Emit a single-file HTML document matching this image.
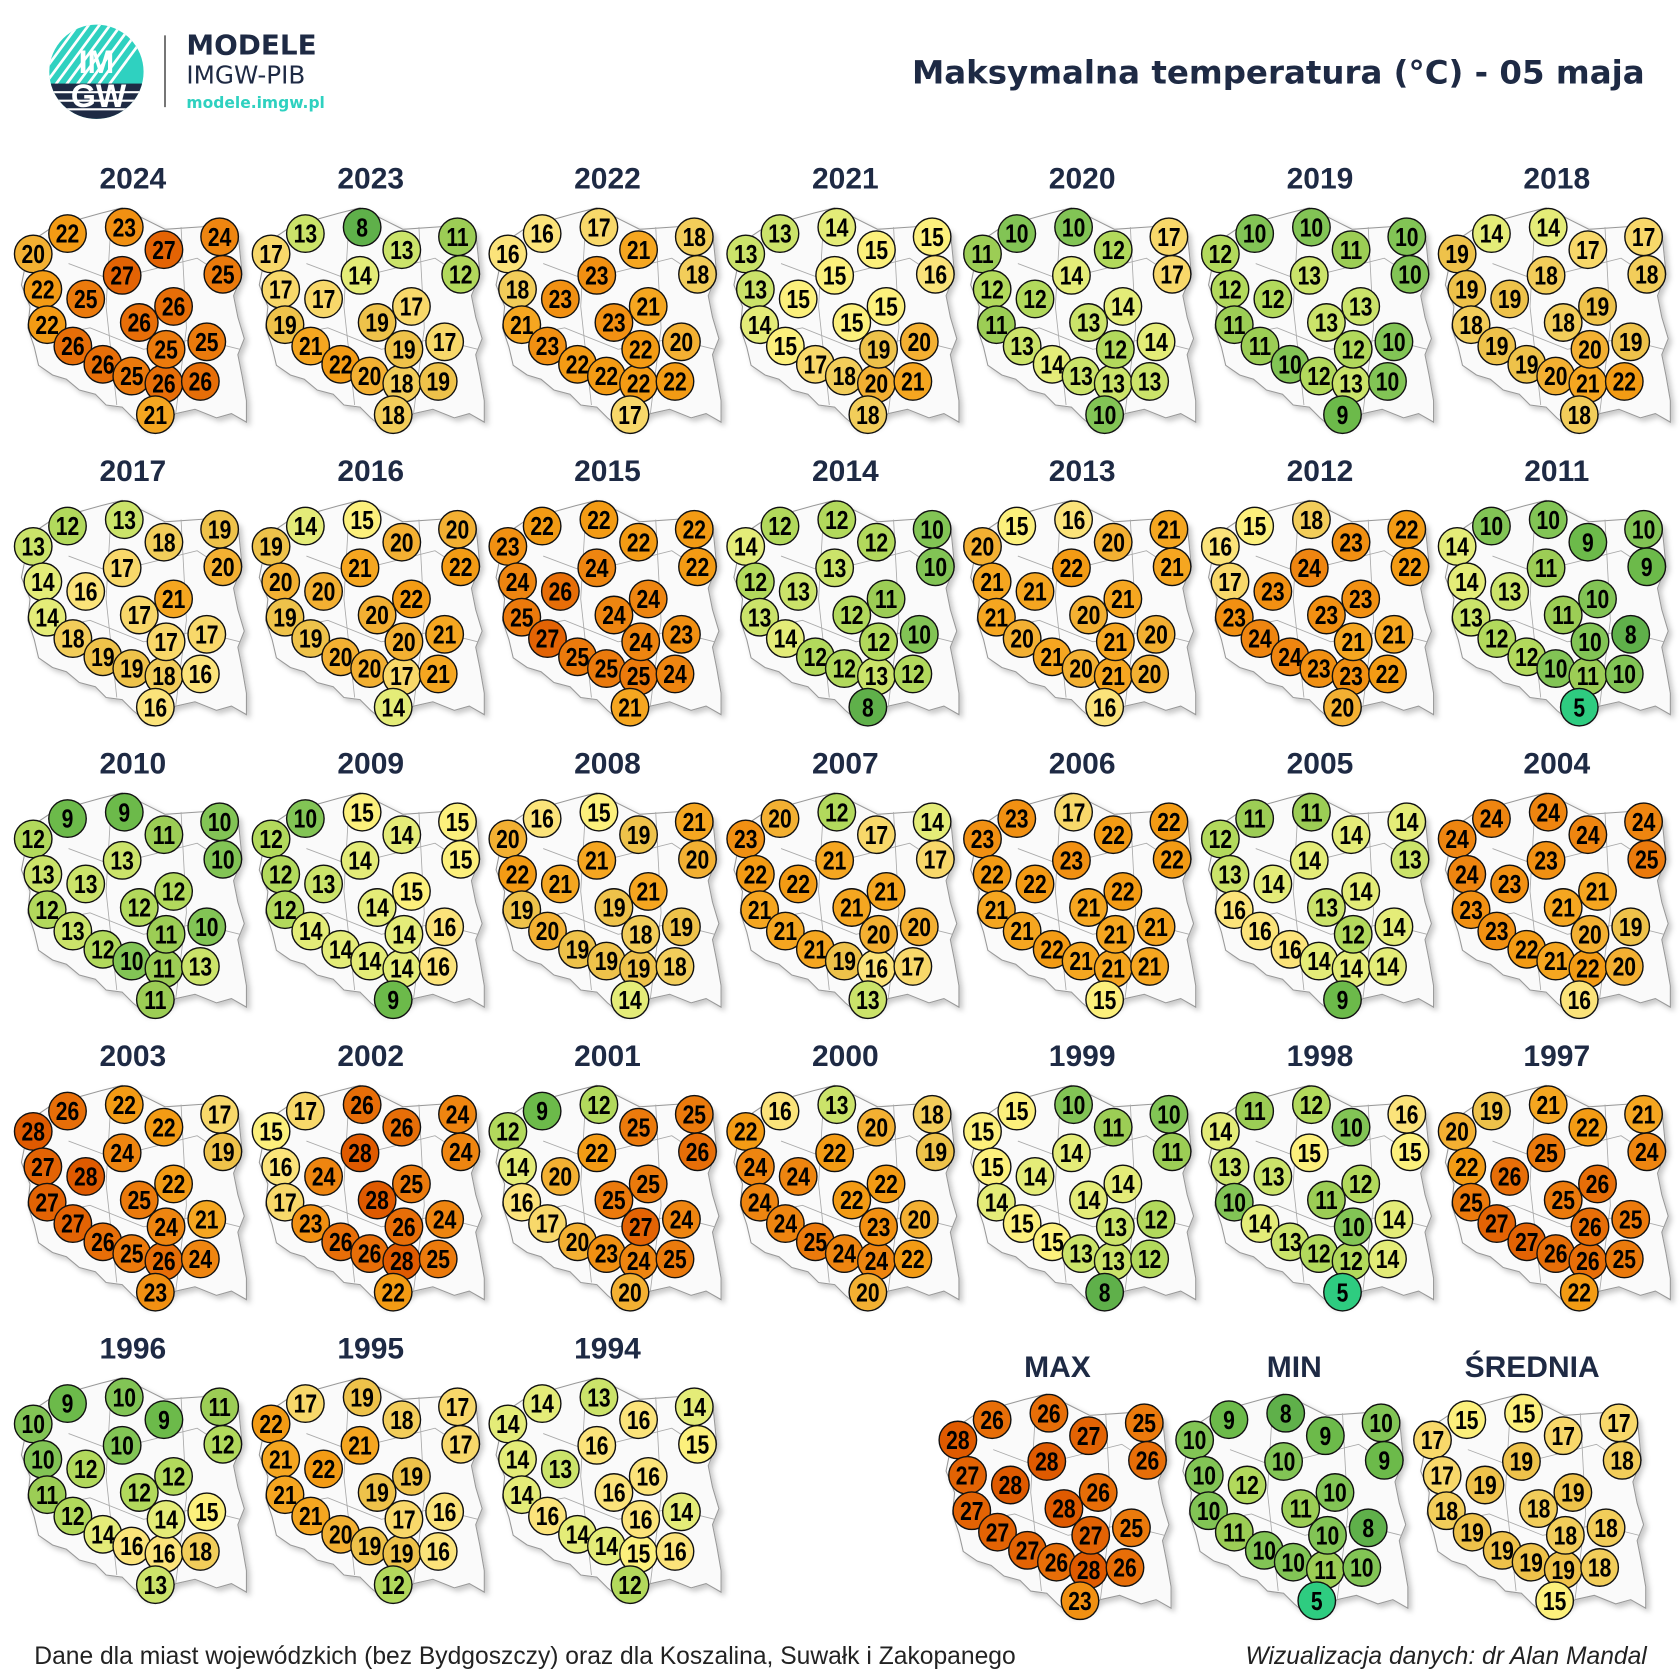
<!DOCTYPE html>
<html><head><meta charset="utf-8">
<style>
html,body{margin:0;padding:0;background:#fff;}
svg{display:block;}
</style></head>
<body>
<svg id="s" width="1680" height="1680" viewBox="0 0 1568 1568" xmlns="http://www.w3.org/2000/svg">
<defs>
<filter id="sh" x="-20%" y="-20%" width="140%" height="140%"><feDropShadow dx="3" dy="3" stdDeviation="2.5" flood-color="#000" flood-opacity="0.22"/></filter>
<clipPath id="lc"><circle cx="90" cy="67" r="44"/></clipPath>
</defs>
<rect width="1568" height="1568" fill="#fff"/>
<g clip-path="url(#lc)">
<rect x="40" y="20" width="100" height="100" fill="#2fd1c0"/>
<g stroke="#fff" stroke-width="2.5">
<line x1="40" y1="95" x2="110" y2="0"/><line x1="50" y1="95" x2="120" y2="0"/><line x1="60" y1="95" x2="130" y2="0"/><line x1="70" y1="95" x2="140" y2="0"/><line x1="80" y1="95" x2="150" y2="0"/><line x1="30" y1="95" x2="100" y2="0"/><line x1="20" y1="95" x2="90" y2="0"/><line x1="90" y1="95" x2="160" y2="0"/>
</g>
<rect x="40" y="78" width="100" height="50" fill="#1e2a44"/>
<g stroke="#fff" stroke-width="2"><line x1="40" y1="86" x2="140" y2="86"/><line x1="40" y1="94" x2="140" y2="94"/><line x1="40" y1="102" x2="140" y2="102"/></g>
</g>
<text x="90" y="68" font-family="Liberation Sans" font-weight="bold" font-size="30" fill="#fff" text-anchor="middle">IM</text>
<text x="92" y="100" font-family="Liberation Sans" font-weight="bold" font-size="30" fill="#fff" text-anchor="middle">GW</text>
<line x1="154" y1="33" x2="154" y2="100" stroke="#555" stroke-width="1.5"/>
<text x="174" y="51" font-family="DejaVu Sans" font-weight="bold" font-size="26" fill="#1e2a44">MODELE</text>
<text x="174" y="78" font-family="DejaVu Sans" font-size="23" fill="#1e2a44">IMGW-PIB</text>
<text x="174" y="101" font-family="DejaVu Sans" font-weight="bold" font-size="14.5" fill="#2fd1c0">modele.imgw.pl</text>
<text x="1535" y="78" font-family="DejaVu Sans" font-weight="bold" font-size="30.3" fill="#1e2a44" text-anchor="end">Maksymalna temperatura (°C) - 05 maja</text>
<text x="32" y="1553" font-family="Liberation Sans" font-size="23" fill="#222">Dane dla miast wojewódzkich (bez Bydgoszczy) oraz dla Koszalina, Suwałk i Zakopanego</text>
<text x="1537" y="1553" font-family="Liberation Sans" font-style="italic" font-size="23" fill="#222" text-anchor="end">Wizualizacja danych: dr Alan Mandal</text>
<g id="g"></g>
</svg>
<script>
var pos=[[-93,71],[-61,52],[-8,46],[29,67],[81,55],[84,90],[-10,91],[-84,104],[-44,113],[-80,137],[38,120],[6,135],[-56,157],[-28,174],[-1,185],[29,192],[31,160],[69,153],[63,190],[21,221]];
var D={
2024:[20,22,23,27,24,25,27,22,25,22,26,26,26,26,25,26,25,25,26,21],
2023:[17,13,8,13,11,12,14,17,17,19,17,19,21,22,20,18,19,17,19,18],
2022:[16,16,17,21,18,18,23,18,23,21,21,23,23,22,22,22,22,20,22,17],
2021:[13,13,14,15,15,16,15,13,15,14,15,15,15,17,18,20,19,20,21,18],
2020:[11,10,10,12,17,17,14,12,12,11,14,13,13,14,13,13,12,14,13,10],
2019:[12,10,10,11,10,10,13,12,12,11,13,13,11,10,12,13,12,10,10,9],
2018:[19,14,14,17,17,18,18,19,19,18,19,18,19,19,20,21,20,19,22,18],
2017:[13,12,13,18,19,20,17,14,16,14,21,17,18,19,19,18,17,17,16,16],
2016:[19,14,15,20,20,22,21,20,20,19,22,20,19,20,20,17,20,21,21,14],
2015:[23,22,22,22,22,22,24,24,26,25,24,24,27,25,25,25,24,23,24,21],
2014:[14,12,12,12,10,10,13,12,13,13,11,12,14,12,12,13,12,10,12,8],
2013:[20,15,16,20,21,21,22,21,21,21,21,20,20,21,20,21,21,20,20,16],
2012:[16,15,18,23,22,22,24,17,23,23,23,23,24,24,23,23,21,21,22,20],
2011:[14,10,10,9,10,9,11,14,13,13,10,11,12,12,10,11,10,8,10,5],
2010:[12,9,9,11,10,10,13,13,13,12,12,12,13,12,10,11,11,10,13,11],
2009:[12,10,15,14,15,15,14,12,13,12,15,14,14,14,14,14,14,16,16,9],
2008:[20,16,15,19,21,20,21,22,21,19,21,19,20,19,19,19,18,19,18,14],
2007:[23,20,12,17,14,17,21,22,22,21,21,21,21,21,19,16,20,20,17,13],
2006:[23,23,17,22,22,22,23,22,22,21,22,21,21,22,21,21,21,21,21,15],
2005:[12,11,11,14,14,13,14,13,14,16,14,13,16,16,14,14,12,14,14,9],
2004:[24,24,24,24,24,25,23,24,23,23,21,21,23,22,21,22,20,19,20,16],
2003:[28,26,22,22,17,19,24,27,28,27,22,25,27,26,25,26,24,21,24,23],
2002:[15,17,26,26,24,24,28,16,24,17,25,28,23,26,26,28,26,24,25,22],
2001:[12,9,12,25,25,26,22,14,20,16,25,25,17,20,23,24,27,24,25,20],
2000:[22,16,13,20,18,19,22,24,24,24,22,22,24,25,24,24,23,20,22,20],
1999:[15,15,10,11,10,11,14,15,14,14,14,14,15,15,13,13,13,12,12,8],
1998:[14,11,12,10,16,15,15,13,13,10,12,11,14,13,12,12,10,14,14,5],
1997:[20,19,21,22,21,24,25,22,26,25,26,25,27,27,26,26,26,25,25,22],
1996:[10,9,10,9,11,12,10,10,12,11,12,12,12,14,16,16,14,15,18,13],
1995:[22,17,19,18,17,17,21,21,22,21,19,19,21,20,19,19,17,16,16,12],
1994:[14,14,13,16,14,15,16,14,13,14,16,16,16,14,14,15,16,14,16,12]};
var col={5:"#2ecc80",6:"#40c070",7:"#50b858",8:"#5fb04a",9:"#6cba4a",10:"#82c455",11:"#9ccd55",12:"#b2d95c",13:"#cbe36a",14:"#e4ec78",15:"#fcf07c",16:"#fbe37a",17:"#f8d86a",18:"#f2cd5a",19:"#eec24a",20:"#f3b032",21:"#f5a620",22:"#f39b14",23:"#f19012",24:"#ee8510",25:"#eb7a0c",26:"#e76e08",27:"#e36304",28:"#df5a00"};
var poly=[[-78,48],[-55,40],[-30,33],[-10,28],[10,38],[30,48],[60,46],[88,44],[98,50],[100,70],[102,90],[94,110],[98,130],[104,150],[98,165],[102,185],[106,208],[106,228],[92,220],[78,224],[58,216],[40,220],[28,230],[12,234],[0,224],[-10,214],[-25,212],[-35,202],[-50,198],[-62,188],[-75,184],[-88,175],[-92,158],[-98,140],[-96,120],[-104,100],[-100,80],[-96,60]];
var out="";
function panel(cx,ty,title,vals,my){
 out+='<text x="'+cx+'" y="'+(ty+10)+'" font-family="Liberation Sans" font-weight="bold" font-size="28" fill="#1e2a44" text-anchor="middle">'+title+'</text>';
 var pts=poly.map(function(p){return (cx+p[0])+","+(my+p[1]);}).join(" ");
 out+='<polygon points="'+pts+'" fill="#fafafa" stroke="#999" stroke-width="1" filter="url(#sh)"/>';
 var L=[[[-60,80],[-20,95],[20,85],[60,75],[98,100]],[[-90,150],[-40,140],[10,160],[60,150],[100,160]],[[-20,35],[-25,120],[-15,212]],[[45,46],[50,140],[40,220]]];
 L.forEach(function(l){out+='<polyline points="'+l.map(function(p){return (cx+p[0])+','+(my+p[1]);}).join(' ')+'" fill="none" stroke="#aaa" stroke-width="0.8"/>';});
 for(var i=0;i<20;i++){var x=cx+pos[i][0],y=my+pos[i][1],v=vals[i];
  out+='<circle cx="'+x+'" cy="'+y+'" r="17.5" fill="'+col[v]+'" stroke="#111" stroke-width="1.3"/>';
  out+='<text transform="translate('+x+','+(y+8.5)+') scale(0.82,1)" font-family="Liberation Sans, sans-serif" font-weight="bold" font-size="24" fill="#000" text-anchor="middle">'+v+'</text>';}
}
var cols=[124,346,567,789,1010,1232,1453];
var years=[];for(var y=2024;y>=1994;y--)years.push(y);
years.forEach(function(yr,k){var r=Math.floor(k/7),c=k%7;var ty=166+r*273;panel(cols[c],ty,yr,D[yr],ty);});
panel(987,1275,"MAX",[28,26,26,27,25,26,28,27,28,27,26,28,27,27,26,28,27,25,26,23],1273);
panel(1208,1275,"MIN",[10,9,8,9,10,9,10,10,12,10,10,11,11,10,10,11,10,8,10,5],1273);
panel(1430,1275,"ŚREDNIA",[17,15,15,17,17,18,19,17,19,18,19,18,19,19,19,19,18,18,18,15],1273);
document.getElementById("g").innerHTML=out;
</script>
</body></html>
